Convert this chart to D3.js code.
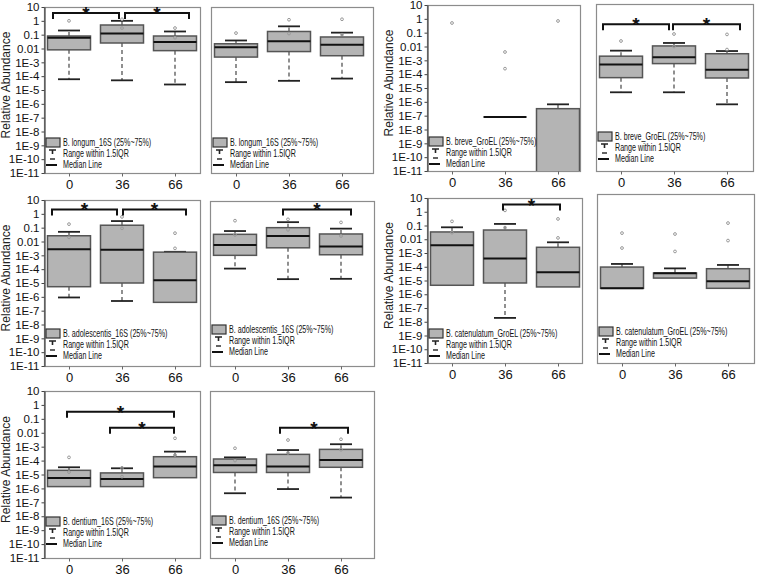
<!DOCTYPE html>
<html>
<head>
<meta charset="utf-8">
<script src="https://cdn.jsdelivr.net/npm/d3@7"></script>
<style>
  body { margin: 0; background: #fff; }
  svg { display: block; font-family: "Liberation Sans", Arial, sans-serif; }
  .leg { font-family: "Liberation Sans", Arial, sans-serif; font-size: 10.5px; fill: #111; }
</style>
</head>
<body>
<div id="chart"></div>
<script>
// categories (days) and y ticks
const categories = ["0", "36", "66"];
const yTickValues = [10, 1, 0.1, 0.01, 1e-3, 1e-4, 1e-5, 1e-6, 1e-7, 1e-8, 1e-9, 1e-10, 1e-11];
const yTickLabels = ["10", "1", "0.1", "0.01", "1E-3", "1E-4", "1E-5", "1E-6", "1E-7", "1E-8", "1E-9", "1E-10", "1E-11"];
const legendLine2 = "Range within 1.5IQR";
const legendLine3 = "Median Line";

// boxes per category: [q1, median, q3, lower whisker, upper whisker]
const longumA = [[0.008, 0.06, 0.08, 6e-5, 0.2], [0.025, 0.12, 0.5, 5e-5, 1], [0.007, 0.03, 0.08, 2.5e-5, 0.17]];
const longumAOut = [[1], [1.3, 0.3], [0.3, 0.06]];
const longumASig = [["0", "36", 3.7], ["36", "66", 3.7]];

const longumB = [[0.0024, 0.0125, 0.022, 3.7e-5, 0.038], [0.006, 0.034, 0.17, 4.6e-5, 0.4], [0.003, 0.019, 0.068, 6.7e-5, 0.14]];
const longumBOut = [[0.13], [1.2, 0.12], [1.3, 0.1]];

const breveA = [null, [8e-8, 8e-8, 8e-8, null, null], [1e-13, null, 3.2e-7, null, 6.6e-7]];
const breveAOut = [[0.5], [0.004, 2.5e-4], [0.7]];

const breveB = [[5.6e-5, 5e-4, 0.002, 4.9e-6, 0.005], [5.8e-4, 0.0017, 0.011, 4.9e-6, 0.018], [5.3e-5, 2.1e-4, 0.003, 6.6e-7, 0.0047]];
const breveBOut = [[0.025], [0.08, 0.01], [0.075, 0.006]];
const breveBSig = [["0", "36", 0.4], ["36", "66", 0.4]];

const adolescentisA = [[5.4e-6, 0.0027, 0.026, 9e-7, 0.05], [1e-5, 0.0025, 0.15, 5e-7, 0.3], [4e-7, 1.6e-5, 0.0017, null, 0.0018]];
const adolescentisAOut = [[0.18, 0.02], [0.6, 0.09], [0.04, 0.0032]];
const adolescentisASig = [["0", "36", 2.1], ["36", "66", 2.1]];

const adolescentisB = [[0.001, 0.0056, 0.033, 1.1e-4, 0.057], [0.0035, 0.025, 0.1, 1.9e-5, 0.25], [0.0011, 0.0043, 0.035, 2e-5, 0.085]];
const adolescentisBOut = [[0.32, 0.03], [0.4, 0.07], [0.24, 0.025]];
const adolescentisBSig = [["36", "66", 2.1]];

const catenulatumA = [[4.5e-6, 0.0036, 0.034, null, 0.074], [6.6e-6, 3.9e-4, 0.047, 1.9e-8, 0.13], [3.4e-6, 3.9e-5, 0.0026, null, 0.006]];
const catenulatumAOut = [[0.2, 0.03], [1.26, 0.07], [0.3, 0.0125]];
const catenulatumASig = [["36", "66", 3.3]];

const catenulatumB = [[2.7e-6, 2.7e-6, 9.5e-5, null, 1.6e-4], [1.5e-5, 3.3e-5, 3.5e-5, null, 7.6e-5], [2.7e-6, 8.7e-6, 7.2e-5, null, 1.35e-4]];
const catenulatumBOut = [[0.028, 0.0023], [0.024, 0.0013], [0.15, 0.008]];

const dentiumA = [[1.35e-6, 5.6e-6, 2e-5, null, 3.3e-5], [1.35e-6, 4.8e-6, 1.3e-5, null, 2.8e-5], [5.9e-6, 3.7e-5, 1.9e-4, null, 4.4e-4]];
const dentiumAOut = [[1.7e-4, 1.5e-5], [3e-5, 7e-6], [0.004, 2.5e-4]];
const dentiumASig = [["0", "66", 0.32], ["36", "66", 0.023]];

const dentiumB = [[1.4e-5, 4.6e-5, 1.3e-4, 4.5e-7, 1.7e-4], [1.4e-5, 3.7e-5, 2.8e-4, 9e-7, 5.7e-4], [3.3e-5, 1.1e-4, 6.4e-4, 2.2e-7, 1.5e-3]];
const dentiumBOut = [[7.7e-4, 1e-4], [3e-3, 3.6e-4], [3.4e-3, 6e-4]];
const dentiumBSig = [["36", "66", 0.023]];

// layout of the ten panels (pixels)
const panels = [
  { x0: 44, x1: 200, top: 7, bottom: 173, frameTop: 7, axis: true, name: "B. longum_16S", boxes: longumA, out: longumAOut, sig: longumASig, sigDx: [[-16, -3], [3, 14]], legTop: -35 },
  { x0: 211, x1: 373, top: 7, bottom: 173, frameTop: 7, axis: false, name: "B. longum_16S", boxes: longumB, out: longumBOut, sig: [], sigDx: [], legTop: -35 },
  { x0: 427, x1: 580, top: 5, bottom: 171, frameTop: 5, axis: true, name: "B. breve_GroEL", boxes: breveA, out: breveAOut, sig: [], sigDx: [], legTop: -34 },
  { x0: 596, x1: 753, top: 5, bottom: 171, frameTop: 4, axis: false, name: "B. breve_GroEL", boxes: breveB, out: breveBOut, sig: breveBSig, sigDx: [[-18, -5], [-1, 13]], legTop: -39 },
  { x0: 44, x1: 200, top: 200, bottom: 366, frameTop: 200, axis: true, name: "B. adolescentis_16S", boxes: adolescentisA, out: adolescentisAOut, sig: adolescentisASig, sigDx: [[-17, -5], [1, 11]], legTop: -37 },
  { x0: 210, x1: 374, top: 200, bottom: 366, frameTop: 201, axis: false, name: "B. adolescentis_16S", boxes: adolescentisB, out: adolescentisBOut, sig: adolescentisBSig, sigDx: [[-5, 10]], legTop: -41 },
  { x0: 427, x1: 582, top: 198, bottom: 363, frameTop: 198, axis: true, name: "B. catenulatum_GroEL", boxes: catenulatumA, out: catenulatumAOut, sig: catenulatumASig, sigDx: [[-2, 2]], legTop: -34 },
  { x0: 597, x1: 754, top: 198, bottom: 363, frameTop: 194, axis: false, name: "B. catenulatum_GroEL", boxes: catenulatumB, out: catenulatumBOut, sig: [], sigDx: [], legTop: -36 },
  { x0: 44, x1: 200, top: 391, bottom: 558, frameTop: 391, axis: true, name: "B. dentium_16S", boxes: dentiumA, out: dentiumAOut, sig: dentiumASig, sigDx: [[-2, -1], [-12, -1]], legTop: -41 },
  { x0: 210, x1: 374, top: 391, bottom: 558, frameTop: 391, axis: false, name: "B. dentium_16S", boxes: dentiumB, out: dentiumBOut, sig: dentiumBSig, sigDx: [[-8, 7]], legTop: -42 }
];

const svg = d3.select("#chart").append("svg")
  .attr("width", 757)
  .attr("height", 577);

panels.forEach((p, pi) => drawPanel(p, pi));

function drawPanel(p, pi) {
  const g = svg.append("g");
  const y = d3.scaleLog().domain([1e-11, 10]).range([p.bottom, p.top]);
  const x = d3.scalePoint().domain(categories).range([p.x0 + 25, p.x0 + 131]);
  const boxW = 43;

  g.append("clipPath").attr("id", "clip" + pi)
    .append("rect")
    .attr("x", p.x0).attr("y", p.frameTop)
    .attr("width", p.x1 - p.x0).attr("height", p.bottom - p.frameTop);

  // frame
  g.append("rect")
    .attr("x", p.x0 + 0.5).attr("y", p.frameTop + 0.5)
    .attr("width", p.x1 - p.x0).attr("height", p.bottom - p.frameTop)
    .attr("fill", "none")
    .attr("stroke", "#8c8c8c")
    .attr("stroke-width", 1.2);

  // y axis
  if (p.axis) {
    const yAxis = d3.axisLeft(y)
      .tickValues(yTickValues)
      .tickFormat((d, i) => yTickLabels[i])
      .tickSize(3)
      .tickSizeOuter(0)
      .tickPadding(2);
    const ag = g.append("g")
      .attr("transform", `translate(${p.x0 + 0.5},0)`)
      .call(yAxis);
    ag.select(".domain").attr("stroke", "#444").attr("stroke-width", 1.2);
    ag.selectAll(".tick line").attr("stroke", "#444");
    ag.selectAll("text").attr("font-size", 11.5).attr("fill", "#111")
      .attr("font-family", "'Liberation Sans', Arial, sans-serif");

    g.append("text")
      .attr("transform", `translate(${p.x0 - 34},${(p.top + p.bottom) / 2 - 5}) rotate(-90)`)
      .attr("text-anchor", "middle")
      .attr("font-size", 12)
      .attr("fill", "#222")
      .text("Relative Abundance");
  }

  // x axis (ticks + labels)
  const xAxis = d3.axisBottom(x).tickSize(3).tickSizeOuter(0).tickPadding(3);
  const xg = g.append("g")
    .attr("transform", `translate(0,${p.bottom + 0.5})`)
    .call(xAxis);
  xg.select(".domain").remove();
  xg.selectAll(".tick line").attr("stroke", "#666");
  xg.selectAll("text").attr("font-size", 13).attr("fill", "#111")
    .attr("font-family", "'Liberation Sans', Arial, sans-serif");

  const plot = g.append("g").attr("clip-path", `url(#clip${pi})`);

  // boxes
  p.boxes.forEach((b, i) => {
    const cx = x(categories[i]);
    if (b) {
      const [q1, med, q3, lo, hi] = b;
      if (hi != null) {
        plot.append("line")
          .attr("x1", cx).attr("x2", cx)
          .attr("y1", y(q3)).attr("y2", y(hi))
          .attr("stroke", "#555").attr("stroke-width", 1.3)
          .attr("stroke-dasharray", "4,3");
        plot.append("line")
          .attr("x1", cx - 11).attr("x2", cx + 11)
          .attr("y1", y(hi)).attr("y2", y(hi))
          .attr("stroke", "#222").attr("stroke-width", 1.8);
      }
      if (lo != null) {
        plot.append("line")
          .attr("x1", cx).attr("x2", cx)
          .attr("y1", y(q1)).attr("y2", y(lo))
          .attr("stroke", "#555").attr("stroke-width", 1.3)
          .attr("stroke-dasharray", "4,3");
        plot.append("line")
          .attr("x1", cx - 11).attr("x2", cx + 11)
          .attr("y1", y(lo)).attr("y2", y(lo))
          .attr("stroke", "#222").attr("stroke-width", 1.8);
      }
      if (q3 !== q1) {
        plot.append("rect")
          .attr("x", cx - boxW / 2).attr("y", y(q3))
          .attr("width", boxW).attr("height", y(q1) - y(q3))
          .attr("fill", "#b4b4b4")
          .attr("stroke", "#555").attr("stroke-width", 1.5);
      }
      if (med != null) {
        plot.append("line")
          .attr("x1", cx - boxW / 2).attr("x2", cx + boxW / 2)
          .attr("y1", y(med)).attr("y2", y(med))
          .attr("stroke", "#111").attr("stroke-width", 2);
      }
    }
    // outliers
    plot.selectAll(null)
      .data(p.out[i])
      .enter().append("circle")
      .attr("cx", cx)
      .attr("cy", d => y(d))
      .attr("r", 1.4)
      .attr("fill", "none")
      .attr("stroke", "#9a9a9a")
      .attr("stroke-width", 1);
  });

  // significance brackets
  p.sig.forEach((s, k) => {
    const [a, b, v] = s;
    const xa = x(a) + p.sigDx[k][0];
    const xb = x(b) + p.sigDx[k][1];
    const yy = y(v);
    g.append("path")
      .attr("d", `M${xa},${yy + 6}V${yy}H${xb}V${yy + 6}`)
      .attr("fill", "none")
      .attr("stroke", "#111")
      .attr("stroke-width", 2);
    g.append("text")
      .attr("x", (xa + xb) / 2)
      .attr("y", yy + 7)
      .attr("text-anchor", "middle")
      .attr("font-size", 19)
      .attr("font-weight", "bold")
      .attr("fill", "#111")
      .text("*");
  });

  // legend
  const lx = p.x0 + 2;
  const ly = p.bottom + p.legTop;
  const lg = g.append("g");
  lg.append("rect")
    .attr("x", lx).attr("y", ly)
    .attr("width", 14).attr("height", 9)
    .attr("fill", "#b4b4b4")
    .attr("stroke", "#333").attr("stroke-width", 1.2);
  lg.append("path")
    .attr("d", `M${lx + 3},${ly + 12}H${lx + 10}M${lx + 6.5},${ly + 12}V${ly + 16}`)
    .attr("stroke", "#222").attr("stroke-width", 1.6);
  lg.append("line")
    .attr("x1", lx + 4).attr("x2", lx + 9)
    .attr("y1", ly + 21).attr("y2", ly + 21)
    .attr("stroke", "#222").attr("stroke-width", 1.4);
  lg.append("line")
    .attr("x1", lx).attr("x2", lx + 11)
    .attr("y1", ly + 27).attr("y2", ly + 27)
    .attr("stroke", "#111").attr("stroke-width", 2);
  [p.name + " (25%~75%)", legendLine2, legendLine3].forEach((t, k) => {
    lg.append("text").attr("class", "leg")
      .attr("transform", `translate(${lx + 17},${ly + 8 + k * 11}) scale(0.68,1)`)
      .text(t);
  });
}
</script>
</body>
</html>
